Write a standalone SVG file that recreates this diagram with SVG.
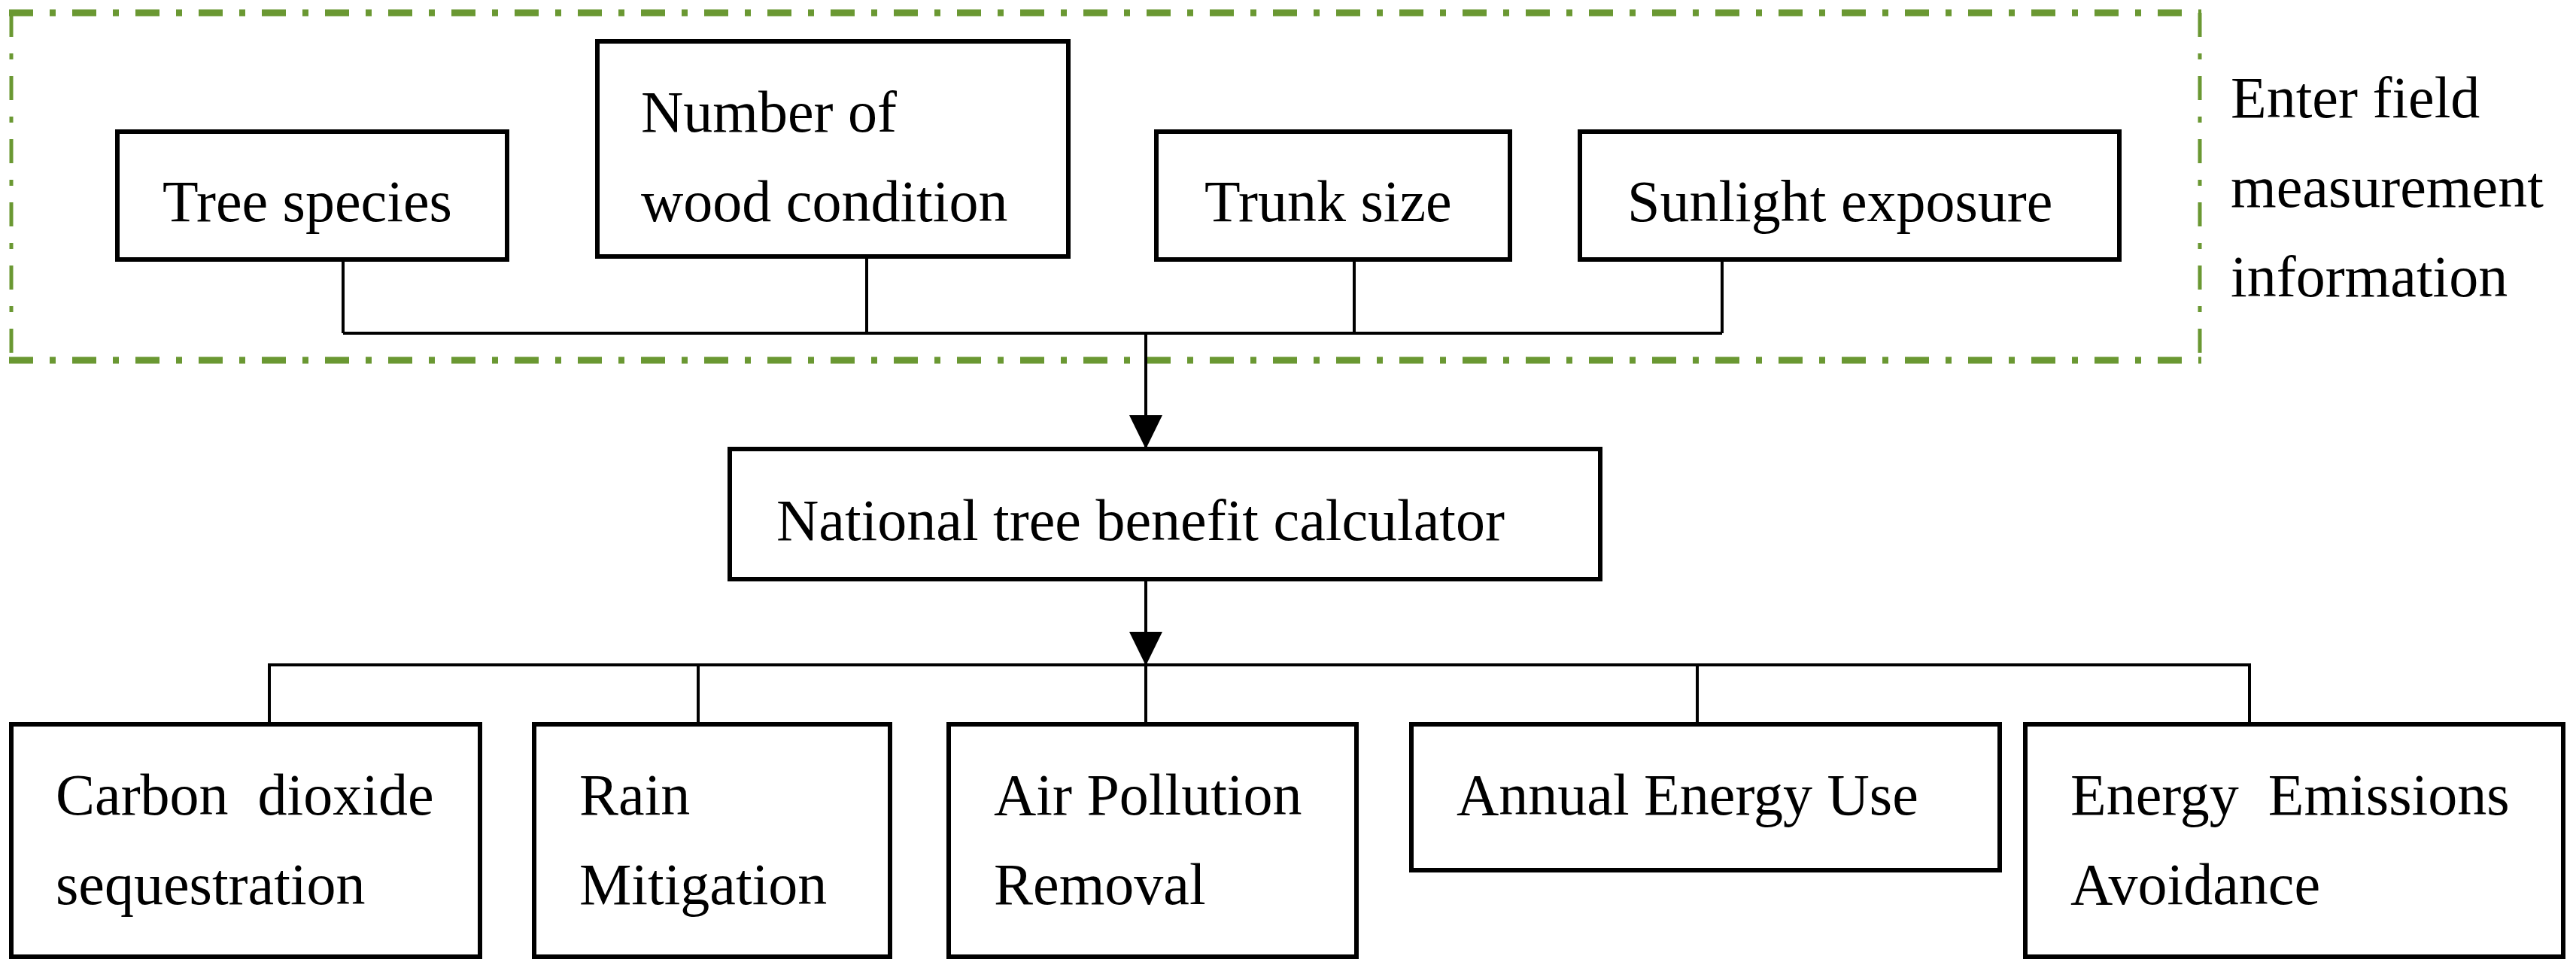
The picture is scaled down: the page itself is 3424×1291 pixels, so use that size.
<svg xmlns="http://www.w3.org/2000/svg" width="3424" height="1291" viewBox="0 0 3424 1291">
<style>
.box{fill:#fff;stroke:#000;stroke-width:6}
.t{font-family:"Liberation Serif","Times New Roman",serif;font-size:78px;fill:#000}
.c{fill:none;stroke:#000;stroke-width:4}
.g{fill:none;stroke:#6A9832;stroke-dasharray:32 22 8 22}
</style>
<defs>
<marker id="ah" markerUnits="userSpaceOnUse" markerWidth="46" markerHeight="48" refX="45" refY="22" orient="auto">
<path d="M0,0 L45,22 L0,44 Z" fill="#000"/>
</marker>
</defs>
<rect width="3424" height="1291" fill="#fff"/>
<g id="frame">
<path class="g" stroke-width="9" d="M12,17 H2926 M12,479 H2926"/>
<path class="g" stroke-width="5" d="M15,17 V479 M2924,17 V479"/>
<text class="t" x="2965" y="156">Enter field</text>
<text class="t" x="2965" y="275">measurement</text>
<text class="t" x="2965" y="394">information</text>
</g>
<g id="connectors">
<path class="c" d="M456,345 V443 M1152,341 V443 M1800,345 V443 M2289,345 V443 M456,443 H2289"/>
<path class="c" stroke-width="5" d="M1523,443 V597" marker-end="url(#ah)"/>
<path class="c" stroke-width="5" d="M1523,770 V885" marker-end="url(#ah)"/>
<path class="c" d="M358,961 V884 H2990 V961 M928,884 V961 M1523,884 V961 M2256,884 V961"/>
</g>
<g id="n1"><rect class="box" x="156" y="175" width="518" height="170"/><text class="t" x="216" y="294">Tree species</text></g>
<g id="n2"><rect class="box" x="794" y="55" width="626" height="286"/><text class="t" x="852" y="175">Number of</text><text class="t" x="852" y="294">wood condition</text></g>
<g id="n3"><rect class="box" x="1537" y="175" width="470" height="170"/><text class="t" x="1601" y="294">Trunk size</text></g>
<g id="n4"><rect class="box" x="2100" y="175" width="717" height="170"/><text class="t" x="2163" y="294">Sunlight exposure</text></g>
<g id="calc"><rect class="box" x="970" y="597" width="1157" height="173"/><text class="t" x="1032" y="718">National tree benefit calculator</text></g>
<g id="b1"><rect class="box" x="15" y="963" width="623" height="309"/><text class="t" x="74" y="1083" xml:space="preserve">Carbon  dioxide</text><text class="t" x="74" y="1202">sequestration</text></g>
<g id="b2"><rect class="box" x="710" y="963" width="473" height="309"/><text class="t" x="770" y="1083">Rain</text><text class="t" x="770" y="1202">Mitigation</text></g>
<g id="b3"><rect class="box" x="1261" y="963" width="542" height="309"/><text class="t" x="1321" y="1083">Air Pollution</text><text class="t" x="1321" y="1202">Removal</text></g>
<g id="b4"><rect class="box" x="1876" y="963" width="782" height="194"/><text class="t" x="1936" y="1083">Annual Energy Use</text></g>
<g id="b5"><rect class="box" x="2692" y="963" width="715" height="309"/><text class="t" x="2752" y="1083" xml:space="preserve">Energy  Emissions</text><text class="t" x="2752" y="1202">Avoidance</text></g>
</svg>
